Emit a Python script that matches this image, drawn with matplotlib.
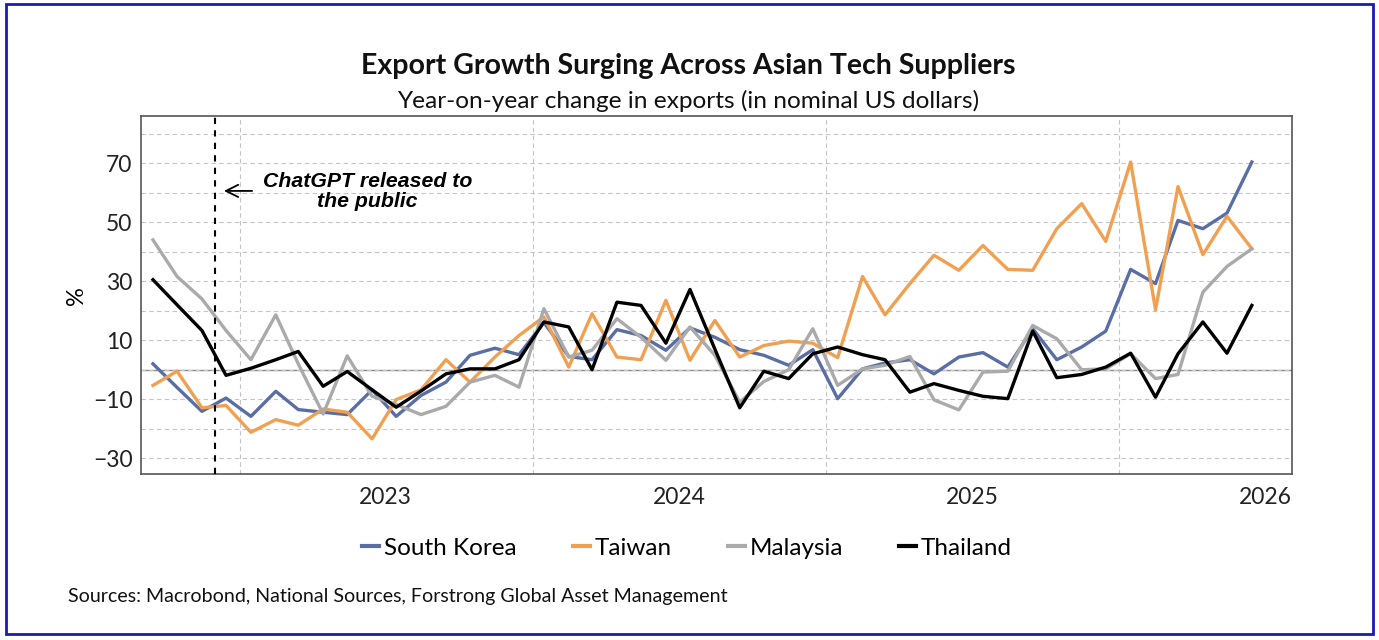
import pandas as pd
import numpy as np
import matplotlib.pyplot as plt
from matplotlib.patches import Rectangle

# monthly data, Sep 2022 - Jun 2026 (plotted mid-month)
months = pd.date_range('2022-09-01', periods=46, freq='MS') + pd.Timedelta(days=14)

south_korea = [2, -6, -14.1, -9.6, -15.8, -7.3, -13.5, -14.4, -15.2, -6.8, -15.8, -8.7,
               -4.2, 4.9, 7.3, 5.1, 16, 4.5, 3.4, 13.6, 11.6, 6.6, 14.2, 11,
               6.8, 4.9, 1.5, 6.8, -9.8, 0.3, 2.3, 3.4, -1.4, 4.3, 5.8, 0.9,
               13.9, 3.4, 7.7, 13.1, 34, 29.2, 50.6, 47.8, 53.1, 70.4]
taiwan = [-5.3, -0.5, -12.9, -12.1, -21.2, -16.9, -18.8, -13.3, -14.4, -23.4, -10.1, -6.8,
          3.4, -4.2, 4.3, 11.6, 17.9, 0.9, 19, 4.3, 3.4, 23.5, 3.2, 16.7,
          4.3, 8.2, 9.7, 9, 4.1, 31.6, 18.6, 29.2, 38.8, 33.7, 42.1, 34,
          33.7, 47.8, 56.3, 43.5, 70.4, 20.3, 62.1, 39, 52, 41]
malaysia = [44, 31.6, 24, 13.3, 3.4, 18.6, 2, -15, 4.7, -9, -11.8, -15.2,
            -12.4, -4.2, -1.9, -5.9, 20.7, 4.3, 6.6, 17.3, 11, 3.2, 14.5, 4.9,
            -11, -4, 0, 13.9, -5.3, 0.3, 1.5, 4.5, -10.2, -13.6, -0.8, -0.5,
            15, 10.5, 0, 0.3, 5.4, -3, -1.6, 26.3, 35, 41]
thailand = [30.5, 22, 13.3, -1.9, 0.5, 3.4, 6.2, -5.6, -0.6, -6.8, -12.7, -7.2,
            -1.4, 0.3, 0.3, 3.4, 16.2, 14.5, 0, 22.9, 21.8, 9, 27.2, 7,
            -12.9, -0.5, -3, 5.4, 7.7, 5.1, 3.4, -7.6, -4.7, -7, -9, -9.8,
            13.1, -2.7, -1.6, 0.9, 5.6, -9.3, 5.4, 16.2, 5.6, 21.8]

years = [2023, 2024, 2025, 2026]
y_labels = [-30, -10, 10, 30, 50, 70]
chatgpt_date = pd.Timestamp('2022-12-01')

plt.rcParams['font.family'] = ['Lato', 'DejaVu Sans']

fig = plt.figure(figsize=(13.79, 6.40), dpi=100)
ax = fig.add_axes([0.1022, 0.2586, 0.8347, 0.5602])

ax.plot(months, south_korea, color='#5a6ea6', lw=2.4, label='South Korea')
ax.plot(months, taiwan, color='#f0a050', lw=2.4, label='Taiwan')
ax.plot(months, malaysia, color='#aaaaaa', lw=2.4, label='Malaysia')
ax.plot(months, thailand, color='black', lw=2.4, label='Thailand')

ax.set_xlim(pd.Timestamp('2022-08-31'), pd.Timestamp('2026-08-04'))
ax.set_ylim(-35.5, 86)

# labels sit in the middle of each year, grid lines at year boundaries
ax.set_xticks([pd.Timestamp(f'{y}-07-02') for y in years])
ax.set_xticklabels([str(y) for y in years])
ax.set_xticks([pd.Timestamp(f'{y}-01-01') for y in years], minor=True)
ax.set_yticks(y_labels)
ax.set_yticks(range(-20, 90, 20), minor=True)
ax.tick_params(which='both', length=0, labelsize=16.5, colors='#222222')
ax.tick_params(axis='x', pad=9)
ax.tick_params(axis='y', pad=6)
ax.grid(which='minor', axis='x', ls=(0, (4, 3)), color='#c4c4c4', lw=0.8)
ax.grid(which='both', axis='y', ls=(0, (4, 3)), color='#c4c4c4', lw=0.8)
ax.axhline(0, color='#888888', lw=1, zorder=1)

for s in ax.spines.values():
    s.set_color('#555555')
    s.set_linewidth(1.2)

ax.axvline(chatgpt_date, color='black', ls=(0, (3, 3)), lw=1.5, zorder=3)
ax.annotate('', xy=(chatgpt_date + pd.Timedelta(days=8), 60.6),
            xytext=(chatgpt_date + pd.Timedelta(days=50), 60.6),
            arrowprops=dict(arrowstyle='->', color='black', lw=1.3, mutation_scale=22))
ax.text(pd.Timestamp('2023-06-09'), 60.4, 'ChatGPT released to\nthe public',
        ha='center', va='center', fontsize=15.3, fontweight='bold', style='italic',
        family='Liberation Sans', linespacing=1.1)

ax.set_ylabel('%', fontsize=17, labelpad=4)

fig.text(0.499, 0.897, 'Export Growth Surging Across Asian Tech Suppliers',
         ha='center', va='center', fontsize=20.5, fontweight='bold', color='#111111')
fig.text(0.499, 0.843, 'Year-on-year change in exports (in nominal US dollars)',
         ha='center', va='center', fontsize=17.6, color='#111111')

leg = ax.legend(loc='center', bbox_to_anchor=(0.4745, -0.205), ncol=4, frameon=False,
                fontsize=17.5, handlelength=0.7, handletextpad=0.2, columnspacing=2.3)
for line in leg.get_lines():
    line.set_linewidth(3)

fig.text(0.049, 0.068, 'Sources: Macrobond, National Sources, Forstrong Global Asset Management',
         ha='left', va='center', fontsize=14.1, color='#111111')

fig.patches.append(Rectangle((0.004, 0.009), 0.992, 0.984, transform=fig.transFigure,
                             fill=False, edgecolor='#1a1ab4', lw=2))

fig.savefig('out.png', dpi=100)
